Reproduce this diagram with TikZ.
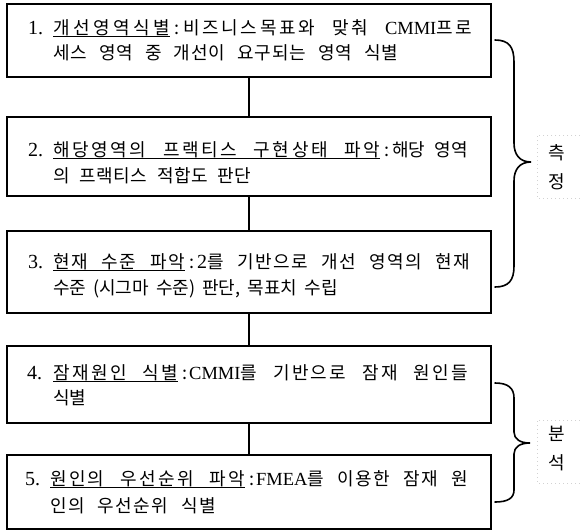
\documentclass[tikz,border=0pt]{standalone}
\usepackage{fontspec}
\setmainfont{Noto Sans CJK KR}
\newfontfamily\latn{Liberation Serif}
\makeatletter
\count@="AC00
\loop\XeTeXcharclass\count@=1 \advance\count@ 1 \ifnum\count@<"D7A4 \repeat
\makeatother
\XeTeXinterchartokenstate=1
\XeTeXinterchartoks 1 1 = {\hskip 0pt plus 1pt\relax}
\newcommand\ulw[2]{\setbox0\hbox to #1{#2}\rlap{\rule[-2.5pt]{\wd0}{0.8pt}}\box0}
\newcommand\lt[1]{{\latn\fontsize{18.5}{25}\selectfont #1}}
\newcommand\sizeset{\fontsize{18}{25}\selectfont\spaceskip=9pt plus 3pt minus 2pt\relax}
\begin{document}
\begin{tikzpicture}[x=1pt,y=-1pt,
  font=\sizeset,
  box/.style={draw, line width=1.8pt, minimum width=484pt, inner sep=0pt, outer sep=0pt},
  num/.style={anchor=base west, inner sep=0pt, font=\latn\fontsize{20}{25}\selectfont},
  txt/.style={anchor=base west, inner sep=0pt},
  link/.style={line width=1.8pt},
  brace/.style={line width=1.6pt, line cap=round},
  lbl/.style={inner sep=0pt, align=center, font=\fontsize{18}{29}\selectfont},
  faint/.style={draw=gray!35, line width=0.6pt, dash pattern=on 1pt off 3pt}]
\useasboundingbox (0,0) rectangle (580,531);
% boxes
\node[box, minimum height=73pt] (b1) at (249,40.5) {};
\node[box, minimum height=79pt] (b2) at (249,156.5) {};
\node[box, minimum height=82pt] (b3) at (249,272) {};
\node[box, minimum height=77pt] (b4) at (249,384.5) {};
\node[box, minimum height=74pt] (b5) at (249,492) {};
% connectors
\draw[link] (b1) -- (b2);
\draw[link] (b2) -- (b3);
\draw[link] (b3) -- (b4);
\draw[link] (b4) -- (b5);
% texts
\node[num] (n1) at (28,34) {1.};
\node[txt] (t1a) at (53,34) {\makebox[419pt][s]{\ulw{117pt}{개선영역식별}\hspace{4pt}:\hspace{4pt}비즈니스목표와 맞춰 \lt{CMMI}프로}};
\node[txt] (t1b) at (53,59) {\makebox[345pt][s]{세스 영역 중 개선이 요구되는 영역 식별}};
\node[num] (n2) at (28,156) {2.};
\node[txt] (t2a) at (53,156) {\makebox[415pt][s]{\ulw{327pt}{해당영역의 프랙티스 구현상태 파악}\hspace{4pt}:\hspace{3pt}해당 영역}};
\node[txt] (t2b) at (53,182) {\makebox[198pt][s]{의 프랙티스 적합도 판단}};
\node[num] (n3) at (28,268) {3.};
\node[txt] (t3a) at (53,268) {\makebox[417pt][s]{\ulw{132pt}{현재 수준 파악}\hspace{4pt}:\hspace{3pt}{\latn\fontsize{20}{25}\selectfont 2}를 기반으로 개선 영역의 현재}};
\node[txt] (t3b) at (53,294) {\makebox[280pt][s]{수준 (시그마 수준) 판단, 목표치 수립}};
\node[num] (n4) at (27,379) {4.};
\node[txt] (t4a) at (53,379) {\makebox[415pt][s]{\ulw{125pt}{잠재원인 식별}\hspace{4pt}:\hspace{2pt}\lt{CMMI}를 기반으로 잠재 원인들}};
\node[txt] (t4b) at (53,404) {식별};
\node[num] (n5) at (25,485) {5.};
\node[txt] (t5a) at (50,485) {\makebox[418pt][s]{\ulw{195pt}{원인의 우선순위 파악}\hspace{4pt}:\hspace{2pt}\lt{FMEA}를 이용한 잠재 원}};
\node[txt] (t5b) at (50,512) {\makebox[166pt][s]{인의 우선순위 식별}};
% braces
\draw[brace] (495,40) .. controls (509,40) and (514,47) .. (514,62) -- (514,143)
  .. controls (514,155) and (520,162) .. (531,162)
  .. controls (520,162) and (514,169) .. (514,181) -- (514,266)
  .. controls (514,280) and (509,287) .. (495,287);
\draw[brace] (495,383) .. controls (508,383) and (514,388) .. (514,398) -- (514,432)
  .. controls (514,439) and (520,443) .. (530,443)
  .. controls (520,443) and (514,447) .. (514,454) -- (514,490)
  .. controls (514,498) and (508,502) .. (495,502);
% faint frames around labels
\draw[faint] (580,135) -- (537,135) -- (537,198) -- (580,198);
\draw[faint] (580,420) -- (537,420) -- (537,483) -- (580,483);
% labels
\node[lbl] (lab1) at (557,167) {측\\정};
\node[lbl] (lab2) at (557,449) {분\\석};
\end{tikzpicture}
\end{document}
